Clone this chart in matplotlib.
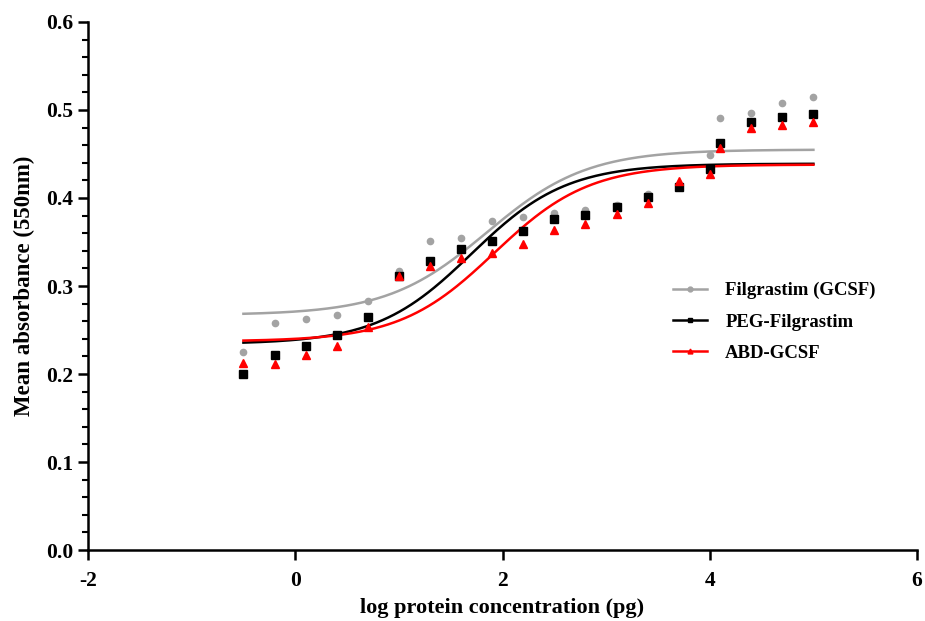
import numpy as np
import matplotlib
matplotlib.use("Agg")
import matplotlib.pyplot as plt
from matplotlib.ticker import MultipleLocator, FormatStrFormatter

# log concentration (pg) for each dilution
log_conc = [-0.5, -0.2, 0.1, 0.4, 0.7, 1.0, 1.3, 1.6, 1.9, 2.2,
            2.5, 2.8, 3.1, 3.4, 3.7, 4.0, 4.1, 4.4, 4.7, 5.0]

# mean absorbance
filgrastim = [0.225, 0.258, 0.263, 0.267, 0.283, 0.317, 0.351, 0.355, 0.374, 0.378,
              0.383, 0.386, 0.392, 0.405, 0.415, 0.449, 0.491, 0.497, 0.508, 0.515]
peg_filgrastim = [0.200, 0.222, 0.232, 0.244, 0.265, 0.311, 0.328, 0.342, 0.351, 0.363,
                  0.376, 0.381, 0.390, 0.401, 0.412, 0.433, 0.463, 0.486, 0.492, 0.495]
abd_gcsf = [0.212, 0.211, 0.222, 0.232, 0.253, 0.311, 0.323, 0.332, 0.337, 0.348,
            0.364, 0.371, 0.382, 0.394, 0.419, 0.427, 0.457, 0.479, 0.483, 0.486]

# 4PL fit parameters (bottom, top, logEC50, hill) estimated from the curves
fit_filgrastim = (0.267, 0.455, 1.85, 0.90)
fit_peg = (0.234, 0.439, 1.70, 0.95)
fit_abd = (0.237, 0.438, 1.92, 0.95)

labels = ["Filgrastim (GCSF)", "PEG-Filgrastim", "ABD-GCSF"]
colors = ["#a3a3a3", "black", "#ff0000"]
markers = ["o", "s", "^"]

plt.rcParams['font.family'] = ['Liberation Serif', 'DejaVu Serif']
plt.rcParams['font.weight'] = 'bold'
plt.rcParams['axes.unicode_minus'] = False


def four_pl(x, p):
    bottom, top, ec50, hill = p
    return bottom + (top - bottom) / (1 + 10 ** ((ec50 - x) * hill))


fig = plt.figure(figsize=(9.25, 6.21), dpi=100)
ax = fig.add_axes([0.0951, 0.1143, 0.8963, 0.8503])

xs = np.linspace(min(log_conc), max(log_conc), 300)
series = [filgrastim, peg_filgrastim, abd_gcsf]
fits = [fit_filgrastim, fit_peg, fit_abd]
msize = [4.5, 5.5, 5.5]

for vals, fit, lab, col, mk, ms in zip(series, fits, labels, colors, markers, msize):
    ax.plot(log_conc, vals, linestyle="none", marker=mk, color=col, markersize=ms, zorder=3)
    ax.plot(xs, four_pl(xs, fit), color=col, lw=1.8, zorder=2)
    # legend handle: line with small marker
    ax.plot([], [], color=col, lw=1.8, marker=mk, markersize=3.5, label=lab)

ax.set_xlim(-2, 6)
ax.set_ylim(0, 0.6)
ax.set_xticks([-2, 0, 2, 4, 6])
ax.yaxis.set_major_locator(MultipleLocator(0.1))
ax.yaxis.set_minor_locator(MultipleLocator(0.02))
ax.yaxis.set_major_formatter(FormatStrFormatter("%.1f"))

for side in ["top", "right"]:
    ax.spines[side].set_visible(False)
for side in ["left", "bottom"]:
    ax.spines[side].set_linewidth(1.8)

ax.tick_params(axis="both", which="major", length=7, width=1.8, labelsize=15.5, direction="out")
ax.tick_params(axis="y", which="minor", length=4.5, width=1.5, direction="out")
ax.tick_params(axis="x", pad=8)

ax.set_xlabel("log protein concentration (pg)", fontsize=16, fontweight="bold", labelpad=5)
ax.set_ylabel("Mean absorbance (550nm)", fontsize=16.5, fontweight="bold", labelpad=8)

ax.legend(loc="center left", bbox_to_anchor=(0.685, 0.432), frameon=False,
          fontsize=13.5, handlelength=1.8, labelspacing=0.75, handletextpad=1.0)

fig.savefig("out.png", dpi=100)
